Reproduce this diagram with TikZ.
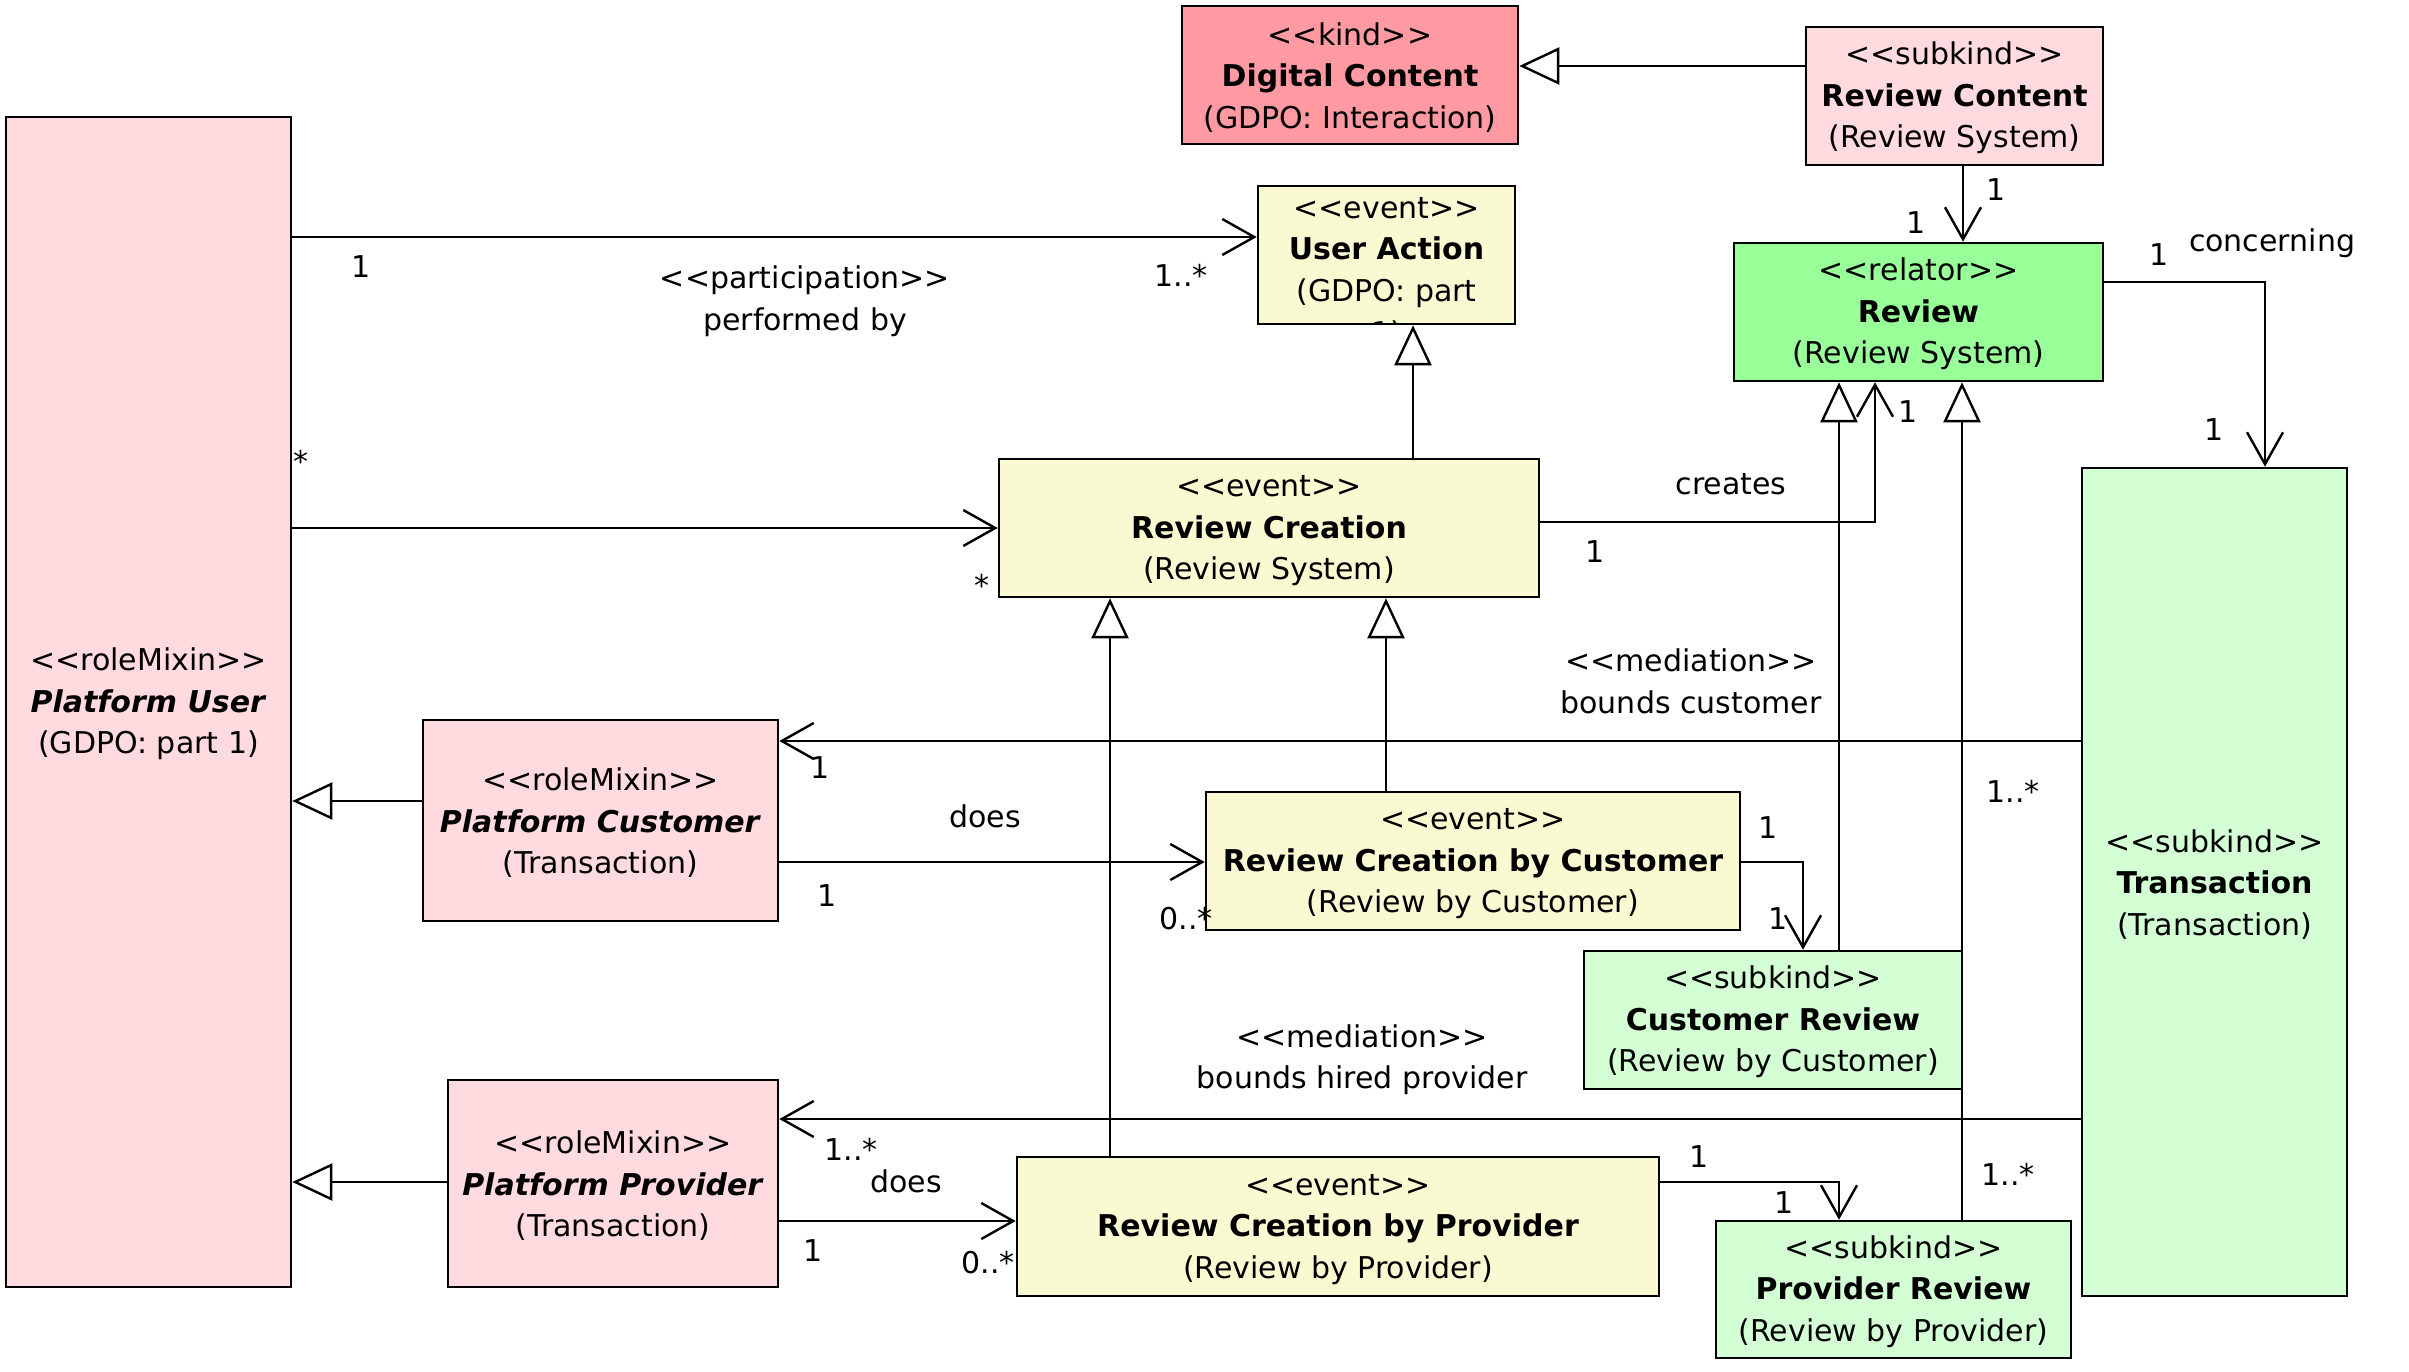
\documentclass[tikz,border=0pt]{standalone}
\usepackage{fontspec}
\setmainfont{DejaVu Sans}
\usetikzlibrary{arrows.meta}
\definecolor{kindc}{HTML}{FF9AA2}
\definecolor{rolec}{HTML}{FFDADE}
\definecolor{evc}{HTML}{FAFAD2}
\definecolor{relc}{HTML}{99FF99}
\definecolor{subc}{HTML}{D4FFD4}
\newcommand\stereo[1]{<{}<#1>{}>}
\newcommand\boxst[1]{\rule{0pt}{13.5pt}<{}<#1>{}>}
\begin{document}
\begin{tikzpicture}[x=0.5pt,y=-0.5pt,
  txt/.style={font=\fontsize{15}{20.75}\selectfont},
  box/.style={draw, line width=1.3pt, align=center, inner sep=0pt, txt},
  lbl/.style={inner sep=0pt, txt},
  ln/.style={line width=1.2pt},
  gen/.style={ln, -{Triangle[length=20pt,width=18.5pt,fill=white]}},
  assoc/.style={ln, -{Straight Barb[length=16pt,width=18pt]}}]
\path[use as bounding box, fill=white] (0,0) rectangle (2409,1371);

% boxes
\node[box, fill=kindc, minimum width=168pt, minimum height=69pt] (dc) at (1350,75)
  {\boxst{kind}\\\textbf{Digital Content}\\(GDPO: Interaction)};
\node[box, fill=rolec, minimum width=148.5pt, minimum height=69pt] (rc) at (1954.5,96)
  {\boxst{subkind}\\\textbf{Review Content}\\(Review System)};
\node[box, fill=evc, minimum width=128.5pt, minimum height=69pt, text depth=9pt,
  path picture={\node[lbl, text depth=] (uax) at ([yshift=-39.5pt]path picture bounding box.center) {1)};}] (ua) at (1386.5,255)
  {\boxst{event}\\\textbf{User Action}\\(GDPO: part};
\node[box, fill=relc, minimum width=184.5pt, minimum height=69pt] (rv) at (1918.5,312)
  {\boxst{relator}\\\textbf{Review}\\(Review System)};
\node[box, fill=rolec, minimum width=142.5pt, minimum height=585pt] (pu) at (148.5,702)
  {\boxst{roleMixin}\\\textbf{\textit{Platform User}}\\(GDPO: part 1)};
\node[box, fill=evc, minimum width=270pt, minimum height=69pt] (rcr) at (1269,528)
  {\boxst{event}\\\textbf{Review Creation}\\(Review System)};
\node[box, fill=subc, minimum width=132.5pt, minimum height=414pt] (tr) at (2214.5,882)
  {\boxst{subkind}\\\textbf{Transaction}\\(Transaction)};
\node[box, fill=rolec, minimum width=177.5pt, minimum height=100.5pt] (pc) at (600.5,820.5)
  {\boxst{roleMixin}\\\textbf{\textit{Platform Customer}}\\(Transaction)};
\node[box, fill=evc, minimum width=267pt, minimum height=69pt] (rcc) at (1473,861)
  {\boxst{event}\\\textbf{Review Creation by Customer}\\(Review by Customer)};
\node[box, fill=subc, minimum width=189pt, minimum height=69pt] (cr) at (1773,1020)
  {\boxst{subkind}\\\textbf{Customer Review}\\(Review by Customer)};
\node[box, fill=rolec, minimum width=165pt, minimum height=103.5pt] (pp) at (613,1183.5)
  {\boxst{roleMixin}\\\textbf{\textit{Platform Provider}}\\(Transaction)};
\node[box, fill=evc, minimum width=321pt, minimum height=69.5pt] (rcp) at (1338,1226.5)
  {\boxst{event}\\\textbf{Review Creation by Provider}\\(Review by Provider)};
\node[box, fill=subc, minimum width=177.5pt, minimum height=68.5pt] (prr) at (1893.5,1289.5)
  {\boxst{subkind}\\\textbf{Provider Review}\\(Review by Provider)};

% generalizations
\draw[gen] (rc.west |- 0,66) -- (dc.east |- 0,66);
\draw[gen] (rcr.north -| 1413,0) -- (ua.south -| 1413,0);
\draw[gen] (cr.north -| 1839,0) -- (rv.south -| 1839,0);
\draw[gen] (prr.north -| 1962,0) -- (rv.south -| 1962,0);
\draw[gen] (pc.west |- 0,801) -- (pu.east |- 0,801);
\draw[gen] (pp.west |- 0,1182) -- (pu.east |- 0,1182);
\draw[gen] (rcc.north -| 1386,0) -- (rcr.south -| 1386,0);
\draw[gen] (rcp.north -| 1110,0) -- (rcr.south -| 1110,0);

% associations
\draw[assoc] (rc.south -| 1963,0) -- (rv.north -| 1963,0);
\draw[assoc] (pu.east |- 0,237) -- (ua.west |- 0,237);
\draw[assoc] (pu.east |- 0,528) -- (rcr.west |- 0,528);
\draw[assoc] (rcr.east |- 0,522) -| (rv.south -| 1875,0);
\draw[assoc] (rv.east |- 0,282) -| (tr.north -| 2265,0);
\draw[assoc] (tr.west |- 0,741) -- (pc.east |- 0,741);
\draw[assoc] (tr.west |- 0,1119) -- (pp.east |- 0,1119);
\draw[assoc] (pc.east |- 0,862) -- (rcc.west |- 0,862);
\draw[assoc] (pp.east |- 0,1221) -- (rcp.west |- 0,1221);
\draw[assoc] (rcc.east |- 0,862) -| (cr.north -| 1803,0);
\draw[assoc] (rcp.east |- 0,1182) -| (prr.north -| 1839,0);

% labels
\node[lbl] (l1) at (1996,190) {1};
\node[lbl] (l2) at (1916,223) {1};
\node[lbl] (l3) at (361,267) {1};
\node[lbl] (l4) at (1181,275) {1..*};
\node[lbl, align=center] (l5) at (805,301) {\stereo{participation}\\performed by};
\node[lbl] (l6) at (301,461) {*};
\node[lbl] (l7) at (982,585) {*};
\node[lbl] (l8) at (1731,484) {creates};
\node[lbl] (l9) at (1595,552) {1};
\node[lbl] (l10) at (1908,412) {1};
\node[lbl] (l11) at (2159,255) {1};
\node[lbl] (l12) at (2272,243) {concerning};
\node[lbl] (l13) at (2214,430) {1};
\node[lbl, align=center, fill=white, inner xsep=7pt] (l14) at (1691,681.5) {\stereo{mediation}\\bounds customer};
\node[lbl] (l15) at (820,768) {1};
\node[lbl] (l16) at (2013,791) {1..*};
\node[lbl] (l17) at (985,816) {does};
\node[lbl] (l18) at (827,896) {1};
\node[lbl] (l19) at (1186,919) {0..*};
\node[lbl] (l20) at (1768,828) {1};
\node[lbl] (l21) at (1778,919) {1};
\node[lbl, align=center] (l22) at (1362,1059.5) {\stereo{mediation}\\bounds hired provider};
\node[lbl] (l23) at (851,1149) {1..*};
\node[lbl] (l24) at (906,1181) {does};
\node[lbl] (l25) at (813,1251) {1};
\node[lbl] (l26) at (988,1263) {0..*};
\node[lbl] (l27) at (1699,1157) {1};
\node[lbl] (l28) at (1784,1203) {1};
\node[lbl] (l29) at (2008,1174) {1..*};
\end{tikzpicture}
\end{document}
